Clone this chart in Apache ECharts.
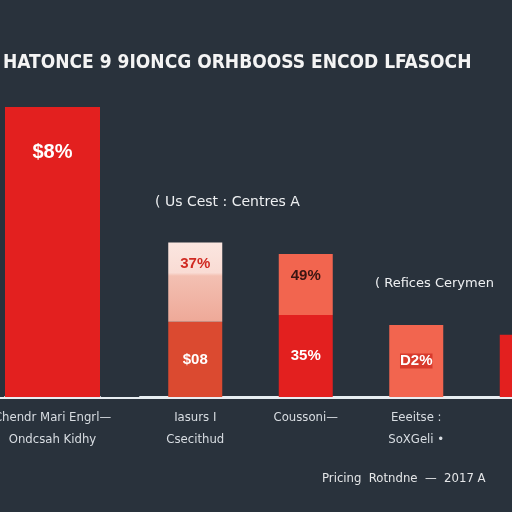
<!DOCTYPE html>
<html>
<head>
    <meta charset="utf-8">
    <title>ECharts</title>
    <script src="https://cdn.jsdelivr.net/npm/echarts@6/dist/echarts.min.js"></script>
    <style>
        html, body { margin: 0; padding: 0; background: #29323c; }
        #main { width: 512px; height: 512px; }
    </style>
</head>
<body>
    <div id="main"></div>
    <script type="text/javascript">
        // data
        var leadCategory = ['Chendr Mari Engrl—\nOndcsah Kidhy'];
        var leadValue = [91.5];
        var leadLabel = ['$8%'];

        var categories = ['Iasurs I\nCsecithud', 'Coussoni—', 'Eeeitse :\nSoXGeli •', 'E'];
        var lowerValues = [23.7, 25.9, 0, 19.6];
        var upperValues = [25.0, 19.2, 22.7, 0];
        var lowerLabels = ['$08', '35%', '', ''];
        var upperLabels = ['37%', '49%', 'D2%', ''];

        var yMax = 100;

        var myChart = echarts.init(document.getElementById('main'));

        var labelStyle = {
            color: '#d8dde2', fontSize: 13, lineHeight: 22, margin: 10,
            fontFamily: 'DejaVu Sans Condensed'
        };

        var option = {
            backgroundColor: '#29323c',
            animation: false,
            title: {
                text: 'HATONCE 9 9IONCG ORHBOOSS ENCOD LFASOCH',
                left: -2,
                top: 49,
                textStyle: {
                    color: '#f4f4f4',
                    fontSize: 19,
                    fontWeight: 'bold',
                    fontFamily: 'DejaVu Sans Condensed'
                }
            },
            grid: [
                { left: 5, width: 95, top: 80, bottom: 115, outerBoundsMode: 'none' },
                { left: 140, right: -70, top: 80, bottom: 115, outerBoundsMode: 'none' }
            ],
            xAxis: [
                {
                    type: 'category', gridIndex: 0, data: leadCategory,
                    axisTick: { show: false },
                    axisLine: { lineStyle: { color: '#e8eef2', width: 2 } },
                    axisLabel: labelStyle
                },
                {
                    type: 'category', gridIndex: 1, data: categories,
                    axisTick: { show: false },
                    axisLine: { lineStyle: { color: '#e8eef2', width: 2 } },
                    axisLabel: labelStyle
                }
            ],
            yAxis: [
                { type: 'value', gridIndex: 0, min: 0, max: yMax, show: false },
                { type: 'value', gridIndex: 1, min: 0, max: yMax, show: false }
            ],
            graphic: [
                {
                    type: 'rect', left: 0, top: 397, z: -1,
                    shape: { width: 512, height: 2 }, style: { fill: '#e8eef2' }
                },
                {
                    type: 'text', left: 155, top: 195,
                    style: { text: '( Us Cest : Centres A', fill: '#eef0f2', font: '14px "DejaVu Sans"' }
                },
                {
                    type: 'text', left: 375, top: 277,
                    style: { text: '( Refices Cerymen', fill: '#eef0f2', font: '13px "DejaVu Sans"' }
                },
                {
                    type: 'text', left: 322, top: 472,
                    style: { text: 'Pricing  Rotndne  —  2017 A', fill: '#e4e6e8', font: '13px "DejaVu Sans Condensed"' }
                }
            ],
            series: [
                {
                    name: 'lead',
                    type: 'bar',
                    xAxisIndex: 0, yAxisIndex: 0,
                    barWidth: '100%',
                    data: leadValue,
                    itemStyle: { color: '#e3201f' },
                    label: {
                        show: true, position: 'insideTop', distance: 36,
                        color: '#ffffff', fontSize: 20, fontWeight: 'bold',
                        formatter: function (p) { return leadLabel[p.dataIndex]; }
                    }
                },
                {
                    name: 'lower',
                    type: 'bar',
                    stack: 'total',
                    xAxisIndex: 1, yAxisIndex: 1,
                    barWidth: 54,
                    data: lowerValues.map(function (v, i) {
                        return { value: v, itemStyle: { color: i === 0 ? '#db4a30' : '#e3201f' } };
                    }),
                    label: {
                        show: true, position: 'inside',
                        color: '#ffffff', fontSize: 15, fontWeight: 'bold',
                        formatter: function (p) { return lowerLabels[p.dataIndex]; }
                    }
                },
                {
                    name: 'upper',
                    type: 'bar',
                    stack: 'total',
                    xAxisIndex: 1, yAxisIndex: 1,
                    barWidth: 54,
                    data: upperValues.map(function (v, i) {
                        var c = '#f2654f';
                        if (i === 0) {
                            c = new echarts.graphic.LinearGradient(0, 0, 0, 1, [
                                { offset: 0, color: '#fbe6e0' },
                                { offset: 0.38, color: '#f9dcd4' },
                                { offset: 0.42, color: '#f3c0b2' },
                                { offset: 1, color: '#eea998' }
                            ]);
                        }
                        return { value: v, itemStyle: { color: c } };
                    }),
                    label: {
                        show: true, position: 'insideTop', distance: 14,
                        fontSize: 15, fontWeight: 'bold',
                        color: '#d02a22',
                        formatter: function (p) { return upperLabels[p.dataIndex]; }
                    }
                }
            ]
        };

        // per-bar label colours
        option.series[2].data[1].label = { color: '#3a1512' };
        option.series[2].data[2].label = { color: '#ffffff', position: 'inside', backgroundColor: '#d83a2c' };

        myChart.setOption(option);
    </script>
</body>
</html>
